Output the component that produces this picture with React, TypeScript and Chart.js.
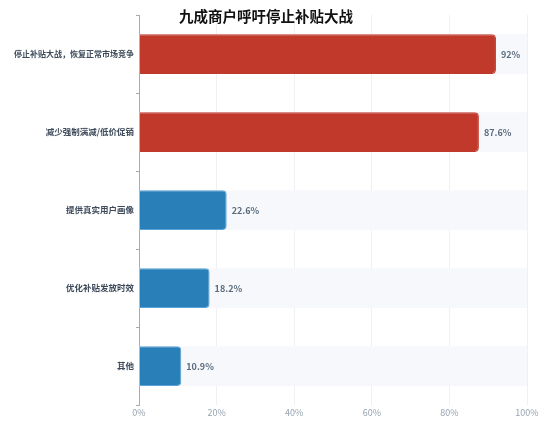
import React, { useEffect, useRef } from "react";
import { Chart, registerables } from "chart.js";

Chart.register(...registerables);

const categories = ["停止补贴大战，恢复正常市场竞争", "减少强制满减/低价促销", "提供真实用户画像", "优化补贴发放时效", "其他"];
const values = [92, 87.6, 22.6, 18.2, 10.9];
const valueLabels = ["92%", "87.6%", "22.6%", "18.2%", "10.9%"];
const barColors = ["#c0392b", "#c0392b", "#2980b9", "#2980b9", "#2980b9"];
const trackValues = [100, 100, 100, 100, 100];
const titleText = "九成商户呼吁停止补贴大战";

const FONT = "'Noto Sans CJK SC', 'Noto Sans', sans-serif";

const overlayPlugin = {
  id: "overlay",
  afterDatasetsDraw(chart: any) {
    const ctx = chart.ctx;
    const meta = chart.getDatasetMeta(0);
    ctx.save();
    ctx.font = `bold 9px ${FONT}`;
    ctx.fillStyle = "#5b6b7d";
    ctx.textAlign = "left";
    ctx.textBaseline = "middle";
    meta.data.forEach((bar: any, i: number) => {
      ctx.fillText(valueLabels[i], bar.x + 5, bar.y);
    });
    ctx.restore();
  },
  afterDraw(chart: any) {
    const ctx = chart.ctx;
    ctx.save();
    ctx.font = `bold 14.5px ${FONT}`;
    ctx.fillStyle = "#111";
    ctx.textAlign = "center";
    ctx.textBaseline = "middle";
    ctx.fillText(titleText, 258, 8);
    ctx.restore();
  },
};

export default function App() {
  const ref = useRef<HTMLCanvasElement>(null);
  useEffect(() => {
    if (!ref.current) return;
    const chart = new Chart(ref.current, {
      type: "bar",
      data: {
        labels: categories,
        datasets: [
          {
            data: values,
            backgroundColor: barColors,
            borderColor: barColors.map((c) => (c === "#2980b9" ? "#5aa3d6" : "#c0392b")),
            borderWidth: 1,
            borderRadius: 4,
            borderSkipped: "start",
            grouped: false,
            barPercentage: 1,
            categoryPercentage: 0.51,
          },
          {
            data: trackValues,
            backgroundColor: "#f6f8fb",
            borderWidth: 0,
            grouped: false,
            barPercentage: 1,
            categoryPercentage: 0.51,
          },
        ],
      },
      options: {
        indexAxis: "y",
        animation: false,
        responsive: false,
        maintainAspectRatio: false,
        layout: { padding: { top: -6, right: 19, bottom: 0, left: 0 } },
        plugins: {
          legend: { display: false },
          tooltip: { enabled: false },
          title: { display: false },
        },
        scales: {
          x: {
            min: 0,
            max: 100,
            ticks: {
              stepSize: 20,
              callback: (v: any) => v + "%",
              color: "#97a3b0",
              font: { family: FONT, size: 9 },
              padding: 2,
            },
            grid: { color: "#eef0f3", drawTicks: false },
            border: { display: false },
          },
          y: {
            afterFit: (s: any) => {
              s.width = 131;
            },
            ticks: {
              color: "#3d4a5a",
              font: (c: any) => ({ family: FONT, size: c.index === 0 ? 8 : 8.5, weight: "bold" }),
              padding: 2,
            },
            grid: { drawOnChartArea: false, tickLength: 3, color: "#aaaaaa", offset: true },
            border: { display: true, color: "#aaaaaa" },
          },
        },
      },
      plugins: [overlayPlugin],
    });
    return () => chart.destroy();
  }, []);
  return (
    <div style={{ width: 538, height: 412, position: "relative" }}>
      <canvas ref={ref} width={538} height={412} style={{ display: "block" }} />
    </div>
  );
}
